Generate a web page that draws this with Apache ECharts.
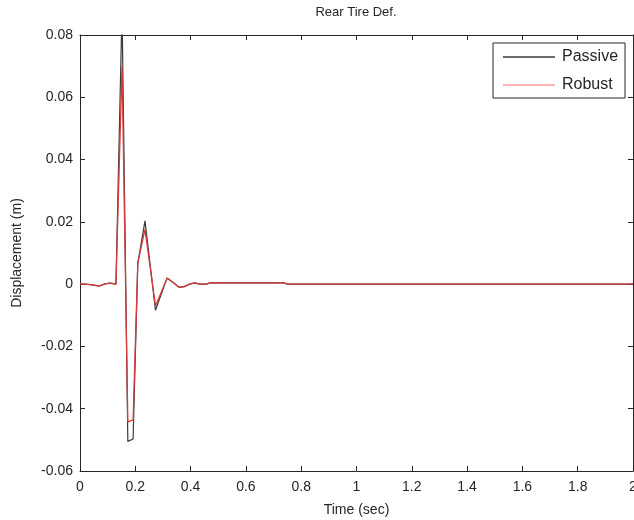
<!DOCTYPE html>
<html>
<head>
<meta charset="utf-8">
<script src="https://cdn.jsdelivr.net/npm/echarts@6/dist/echarts.min.js"></script>
<style>
html,body{margin:0;padding:0;background:#fff;overflow:hidden;}
#chart{width:634px;height:520px;}
</style>
</head>
<body>
<div id="chart"></div>
<script>
// Data
var timeSec = [0, 0.02, 0.04, 0.07, 0.09, 0.11, 0.13, 0.152, 0.173, 0.192, 0.209, 0.235, 0.273, 0.315, 0.336, 0.358, 0.377, 0.396, 0.414, 0.432, 0.456, 0.474, 0.5, 0.55, 0.6, 0.65, 0.7, 0.736, 0.752, 0.8, 1.0, 1.2, 1.4, 1.6, 1.8, 2.0];
var passive = [0, 0, -0.0002, -0.0006, 0.0001, 0.0003, 0, 0.088, -0.0505, -0.0497, 0.0066, 0.0203, -0.0084, 0.0020, 0.0006, -0.0010, -0.0008, 0, 0.0004, 0, 0, 0.0005, 0.0004, 0.0004, 0.0004, 0.0004, 0.0004, 0.0004, 0, 0, 0, 0, 0, 0, 0, 0];
var robust = [0, 0, -0.0002, -0.0006, 0.0001, 0.0003, 0, 0.0700, -0.0442, -0.0436, 0.0068, 0.0176, -0.0070, 0.0019, 0.0006, -0.0010, -0.0008, 0, 0.0004, 0, 0, 0.0005, 0.0004, 0.0004, 0.0004, 0.0004, 0.0004, 0.0004, 0, 0, 0, 0, 0, 0, 0, 0];
var seriesNames = ['Passive', 'Robust'];
var titleText = 'Rear Tire Def.';
var xLabel = 'Time (sec)';
var yLabel = 'Displacement (m)';

function pairs(t, v) { return t.map(function (x, i) { return [x, v[i]]; }); }

var FONT = '"Liberation Sans", Arial, sans-serif';
var AX = '#262626';
var LINE_ICON = 'path://M0,0H52V1.3H0Z';

function xFmt(v) { return String(+v.toFixed(1)); }
function yFmt(v) { var r = +v.toFixed(2); return r === 0 ? '0' : r.toFixed(2); }

function axisBase(extra) {
  var base = {
    axisLine: {show: true, onZero: false, lineStyle: {color: AX, width: 1}},
    axisTick: {show: true, inside: true, length: 5, lineStyle: {color: AX}},
    splitLine: {show: false}
  };
  for (var k in extra) base[k] = extra[k];
  return base;
}

var chart = echarts.init(document.getElementById('chart'), null, {renderer: 'canvas', width: 634, height: 520});
chart.setOption({
  animation: false,
  backgroundColor: '#fff',
  title: {
    text: titleText,
    left: 356, top: 6, textAlign: 'center', padding: 0,
    textStyle: {fontFamily: FONT, fontSize: 13, fontWeight: 'normal', color: AX}
  },
  legend: {
    orient: 'vertical',
    left: 493, top: 43,
    padding: [6, 7, 5, 10],
    itemWidth: 52, itemHeight: 15, itemGap: 12,
    borderColor: AX, borderWidth: 1,
    backgroundColor: '#fff',
    icon: LINE_ICON,
    textStyle: {fontFamily: FONT, fontSize: 16, color: AX, padding: [0, 0, 0, 2]},
    data: [
      {name: seriesNames[0], itemStyle: {color: '#3a3a3a'}},
      {name: seriesNames[1], itemStyle: {color: '#ff9c9c'}}
    ]
  },
  grid: {left: 80, top: 35, right: 1, bottom: 49, containLabel: false, outerBoundsMode: 'none'},
  xAxis: [axisBase({
    type: 'value', min: 0, max: 2, interval: 0.2, position: 'bottom',
    name: xLabel, nameLocation: 'middle', nameGap: 32,
    nameTextStyle: {fontFamily: FONT, fontSize: 14, color: AX},
    axisLabel: {fontFamily: FONT, fontSize: 14, color: AX, margin: 9, formatter: xFmt, showMaxLabel: true}
  }), axisBase({
    type: 'value', min: 0, max: 2, interval: 0.2, position: 'top',
    axisLabel: {show: false}
  })],
  yAxis: [axisBase({
    type: 'value', min: -0.06, max: 0.08, interval: 0.02, position: 'left',
    name: yLabel, nameLocation: 'middle', nameGap: 56,
    nameTextStyle: {fontFamily: FONT, fontSize: 14, color: AX},
    axisLabel: {fontFamily: FONT, fontSize: 14, color: AX, margin: 7, formatter: yFmt}
  }), axisBase({
    type: 'value', min: -0.06, max: 0.08, interval: 0.02, position: 'right',
    axisLabel: {show: false}
  })],
  series: [{
    name: seriesNames[0], type: 'line', data: pairs(timeSec, passive),
    xAxisIndex: 0, yAxisIndex: 0,
    symbol: 'none', showSymbol: false, clip: true,
    color: '#3a3a3a',
    lineStyle: {color: '#3a3a3a', width: 1.2}
  }, {
    name: seriesNames[1], type: 'line', data: pairs(timeSec, robust),
    xAxisIndex: 0, yAxisIndex: 0,
    symbol: 'none', showSymbol: false, clip: true,
    color: '#d63a3a',
    lineStyle: {color: '#d63a3a', width: 1.3}
  }]
});
</script>
</body>
</html>
